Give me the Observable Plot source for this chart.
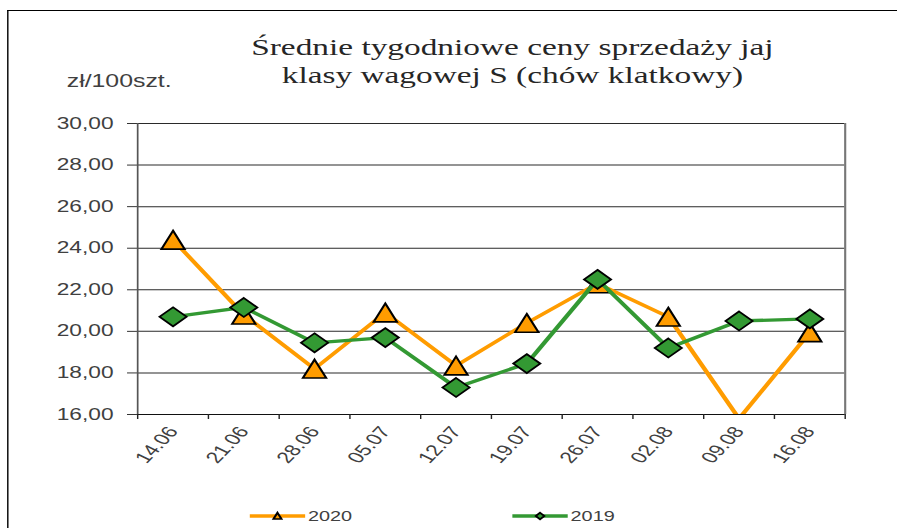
<!DOCTYPE html>
<html>
<head>
<meta charset="utf-8">
<script src="https://cdn.jsdelivr.net/npm/d3@7"></script>
<script src="https://cdn.jsdelivr.net/npm/@observablehq/plot@0.6"></script>
<style>
  html, body { margin: 0; padding: 0; background: #fff; overflow: hidden; width: 897px; height: 528px; }
  #stage { position: absolute; left: 0; top: 0; width: 632px; height: 528px;
           transform: scaleX(1.4193); transform-origin: 0 0;
           font-family: "Liberation Sans", Arial, sans-serif; }
  #frame { position: absolute; left: 4.5px; top: 10px; width: 800px; height: 700px;
           border-top: 1.5px solid #000; border-left: 1px solid #000; }
  #title { position: absolute; left: 111px; width: 500px; top: 33px; text-align: center;
           font-family: "Liberation Serif", "DejaVu Serif", serif; font-size: 23.5px;
           line-height: 28px; color: #262626; }
  #unit { position: absolute; left: 47px; top: 73px; font-size: 17.5px; line-height: 17px; color: #404040; }
  #chart { position: absolute; left: 0; top: 0; }
  #legend { position: absolute; left: 0; top: 500px; }
</style>
</head>
<body>
<div id="stage">
  <div id="frame"></div>
  <div id="title">Średnie tygodniowe ceny sprzedaży jaj<br>klasy wagowej S (chów klatkowy)</div>
  <div id="unit">zł/100szt.</div>
  <div id="chart"></div>
  <svg id="legend" width="632" height="28"></svg>
</div>
<script>
// ---- data ----
const categories = ["14.06","21.06","28.06","05.07","12.07","19.07","26.07","02.08","09.08","16.08"];
const values2020 = [24.4, 20.8, 18.2, 20.9, 18.35, 20.4, 22.3, 20.7, 15.8, 19.95];
const values2019 = [20.7, 21.15, 19.45, 19.7, 17.3, 18.45, 22.5, 19.2, 20.5, 20.6];
const yTicks = [16, 18, 20, 22, 24, 26, 28, 30];
const seriesNames = ["2020", "2019"];

const orange = "#FF9C00";
const green = "#339933";

const d2020 = categories.map((c, i) => ({i, c, v: values2020[i]}));
const d2019 = categories.map((c, i) => ({i, c, v: values2019[i]}));

const triSym = {
  draw(ctx) { ctx.moveTo(0, -9.2); ctx.lineTo(8.2, 9.2); ctx.lineTo(-8.2, 9.2); ctx.closePath(); }
};
const diaSym = {
  draw(ctx) { ctx.moveTo(0, -9.5); ctx.lineTo(9.5, 0); ctx.lineTo(0, 9.5); ctx.lineTo(-9.5, 0); ctx.closePath(); }
};

const fmt = d => d.toFixed(2).replace(".", ",");
const boundaries = d3.range(categories.length + 1).map(k => k - 0.5);
const centers = d3.range(categories.length);

const chart = Plot.plot({
  width: 632,
  height: 528,
  marginLeft: 96.5,
  marginRight: 37,
  marginTop: 123,
  marginBottom: 114,
  style: { fontFamily: "'Liberation Sans', Arial, sans-serif", fontSize: "16px", color: "#404040", background: "transparent", overflow: "visible" },
  x: { type: "linear", domain: [-0.5, categories.length - 0.5] },
  y: { domain: [16, 30] },
  marks: [
    Plot.ruleY(yTicks, { stroke: "#2a2a2a", strokeWidth: 1 }),
    Plot.ruleX([-0.5], { stroke: "#555", strokeWidth: 1.2 }),
    Plot.ruleX([categories.length - 0.5], { stroke: "#777", strokeWidth: 1.5 }),
    Plot.ruleY([16], { stroke: "#111", strokeWidth: 1.2 }),
    Plot.axisY({ ticks: yTicks, tickSize: 7, tickPadding: 10, tickFormat: fmt, label: null, stroke: "#333", fontSize: 16 }),
    Plot.axisX({ ticks: boundaries, tickSize: 5, tickFormat: () => "", label: null, stroke: "#222" }),
    Plot.axisX({ ticks: centers, tickSize: 0, tickPadding: 14, tickRotate: -55, tickFormat: i => categories[i], label: null, fontSize: 16 }),
    Plot.line(d2020, { x: "i", y: "v", stroke: orange, strokeWidth: 3.3, strokeLinejoin: "round", clip: true }),
    Plot.dot(d2020.filter(d => d.v >= 16), { x: "i", y: "v", symbol: triSym, fill: orange, stroke: "#000", strokeWidth: 1.6 }),
    Plot.line(d2019, { x: "i", y: "v", stroke: green, strokeWidth: 3.3, strokeLinejoin: "round", clip: true }),
    Plot.dot(d2019, { x: "i", y: "v", symbol: diaSym, fill: green, stroke: "#000", strokeWidth: 1.6 })
  ]
});
document.getElementById("chart").appendChild(chart);

// ---- legend ----
const lg = d3.select("#legend");
const items = [
  { name: seriesNames[0], color: orange, x: 176, sym: "tri" },
  { name: seriesNames[1], color: green, x: 361, sym: "dia" }
];
items.forEach(it => {
  const g = lg.append("g").attr("transform", `translate(${it.x},16)`);
  g.append("line").attr("x1", 0).attr("x2", 39).attr("y1", 0).attr("y2", 0)
    .attr("stroke", it.color).attr("stroke-width", 3.5);
  if (it.sym === "tri") {
    g.append("path").attr("d", "M19.5,-3.3L22.3,3L16.7,3Z").attr("fill", it.color).attr("stroke", "#000").attr("stroke-width", 1.6);
  } else {
    g.append("path").attr("d", "M19.5,-3.3L22.5,0L19.5,3.3L16.5,0Z").attr("fill", it.color).attr("stroke", "#000").attr("stroke-width", 1.6);
  }
  g.append("text").attr("x", 41).attr("y", 5).attr("fill", "#404040")
    .style("font-family", "'Liberation Sans', Arial, sans-serif").style("font-size", "14px").text(it.name);
});
</script>
</body>
</html>
